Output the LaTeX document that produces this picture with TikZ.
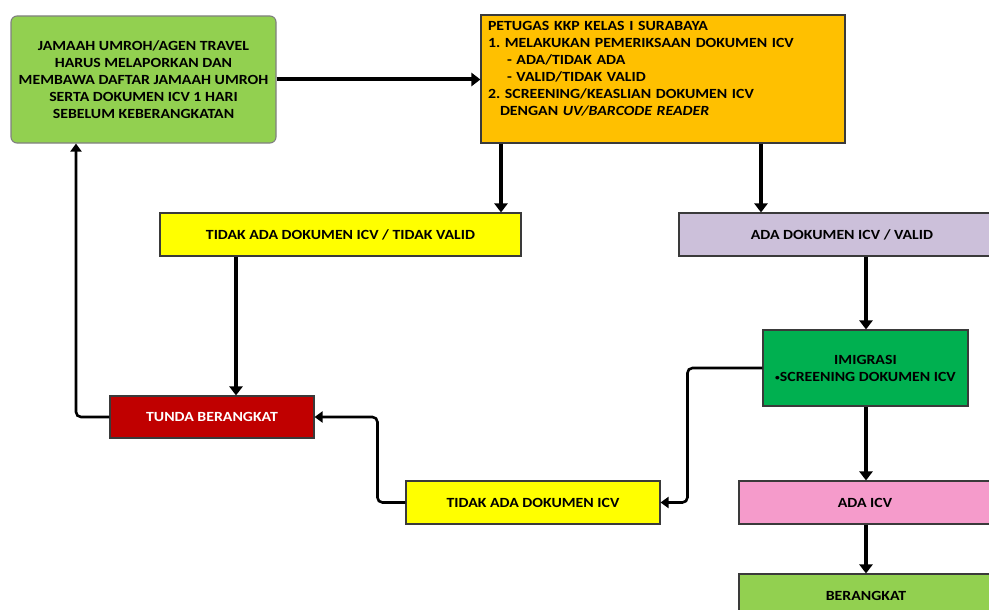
\documentclass[tikz,border=0pt]{standalone}
\usepackage{fontspec}
\setmainfont{Carlito}[FakeStretch=1.13]
\usepackage{xcolor}
\usetikzlibrary{arrows.meta}
\frenchspacing

\definecolor{lightgreen}{HTML}{92D050}
\definecolor{darkgreen}{HTML}{00B050}
\definecolor{amber}{HTML}{FFC000}
\definecolor{lemon}{HTML}{FFFF00}
\definecolor{lilac}{HTML}{CCC0DA}
\definecolor{maroon}{HTML}{C00000}
\definecolor{rose}{HTML}{F59BCB}
\definecolor{edge}{HTML}{3A3A3A}
\newcommand{\smbullet}{\raisebox{1pt}{\scalebox{0.6}{\textbullet}}}

\begin{document}
\begin{tikzpicture}[
    x=1pt, y=-1pt,
    every node/.style={font=\fontsize{14}{17}\selectfont\bfseries},
    box/.style={rectangle, draw=edge, line width=1.1pt, inner sep=0pt,
                align=center},
    arr/.style={-{Triangle[length=9pt,width=13pt]}, line width=4.5pt},
    arrsm/.style={-{Triangle[length=8pt,width=11pt]}, line width=2.6pt,
                  rounded corners=5pt}
]
\clip (0,0) rectangle (989,610);

\node[box, fill=lightgreen, rounded corners=6pt, draw=gray,
      minimum width=265pt, minimum height=127pt]   (jamaah)    at (143.5,79.5)
     {JAMAAH UMROH/AGEN TRAVEL\\HARUS MELAPORKAN DAN\\MEMBAWA DAFTAR JAMAAH UMROH\\SERTA DOKUMEN ICV 1 HARI\\SEBELUM KEBERANGKATAN};
\node[box, fill=amber, align=left, text width=350pt, inner xsep=7pt,
      minimum height=128pt]                         (petugas)   at (663,79)
     {PETUGAS KKP KELAS I SURABAYA\\
      1. MELAKUKAN PEMERIKSAAN DOKUMEN ICV\\
      \hspace*{19pt}- ADA/TIDAK ADA\\
      \hspace*{19pt}- VALID/TIDAK VALID\\
      2. SCREENING/KEASLIAN DOKUMEN ICV\\
      \hspace*{12pt}DENGAN \textit{UV/BARCODE READER}\\ \strut};
\node[box, fill=lemon, minimum width=361pt, minimum height=43pt]  (tidakvalid) at (340.5,234.5)
     {TIDAK ADA DOKUMEN ICV / TIDAK VALID};
\node[box, fill=lilac, minimum width=326pt, minimum height=43pt]  (valid)      at (842,234.5)
     {ADA DOKUMEN ICV / VALID};
\node[box, fill=darkgreen, minimum width=205pt, minimum height=76pt] (imigrasi) at (865.5,368)
     {IMIGRASI\\\smbullet SCREENING DOKUMEN ICV};
\node[box, fill=maroon, text=white, minimum width=204pt, minimum height=42pt] (tunda) at (212,417)
     {TUNDA BERANGKAT};
\node[box, fill=lemon, minimum width=254pt, minimum height=43pt]  (tidakada)   at (533,502.5)
     {TIDAK ADA DOKUMEN ICV};
\node[box, fill=rose, minimum width=252pt, minimum height=43pt]   (adaicv)     at (865,502.5)
     {ADA ICV};
\node[box, fill=lightgreen, minimum width=254pt, minimum height=43pt] (berangkat) at (866,595.5)
     {BERANGKAT};

% alur utama
\draw[arr, line width=4pt] (jamaah.east) -- (petugas.west |- jamaah.east);
\draw[arr] (petugas.south -| 501,0) -- (tidakvalid.north -| 501,0);
\draw[arr] (petugas.south -| 761,0) -- (valid.north -| 761,0);
\draw[arr] (tidakvalid.south -| 236,0) -- (tunda.north -| 236,0);
\draw[arr] (valid.south -| 866,0) -- (imigrasi.north -| 866,0);
\draw[arr] (imigrasi.south -| 866,0) -- (adaicv.north -| 866,0);
\draw[arr] (adaicv.south -| 866,0) -- (berangkat.north -| 866,0);

% balik ke awal
\draw[arrsm] (imigrasi.west) -- ++(-75,0) |- (tidakada.east);
\draw[arrsm] (tidakada.west) -- ++(-28,0) |- (tunda.east);
\draw[arrsm] (tunda.west) -| (jamaah.south -| 76,0);
\end{tikzpicture}
\end{document}
